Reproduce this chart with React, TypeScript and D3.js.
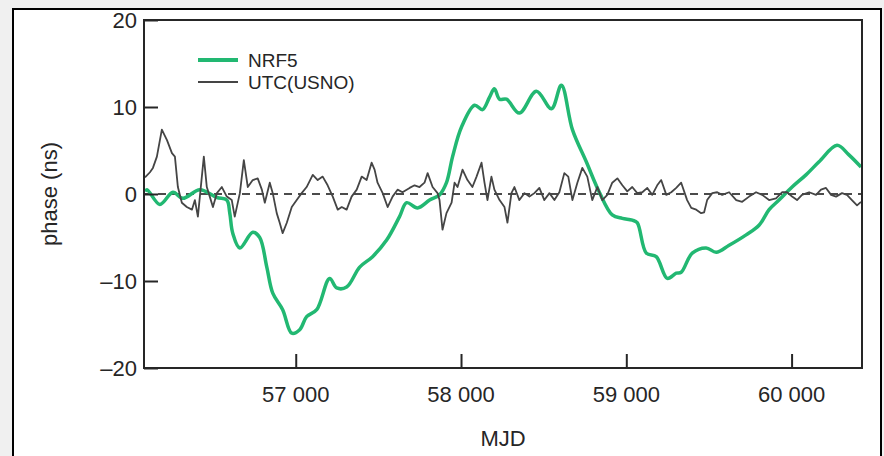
import React, { useEffect, useRef } from 'react';
import * as d3 from 'd3';

// NRF5 phase vs MJD (green)
const nrf5Mjd = [
  56088, 56100, 56178, 56257, 56317, 56420, 56523, 56583, 56601, 56619, 56662, 56740,
  56782, 56825, 56861, 56921, 56976, 57024, 57066, 57127, 57205, 57248, 57308, 57387,
  57465, 57550, 57628, 57671, 57737, 57810, 57870, 57912, 57949, 58003, 58082, 58130,
  58172, 58202, 58233, 58275, 58353, 58456, 58547, 58607, 58674, 58758, 58837, 58915,
  58976, 59036, 59066, 59121, 59181, 59248, 59302, 59332, 59399, 59483, 59544, 59622,
  59725, 59803, 59864, 59924, 60003, 60087, 60166, 60275, 60347, 60420,
];
const nrf5Phase = [
  0.3, 0.5, -1.2, 0.2, -0.5, 0.5, -0.4, -0.7, -2.2, -4.5, -6.2, -4.4,
  -5.0, -8.4, -11.4, -13.3, -16.0, -15.6, -14.1, -13.3, -9.7, -10.8, -10.7, -8.4,
  -7.2, -5.3, -2.6, -1.0, -1.6, -0.7, -0.1, 1.3, 4.3, 7.7, 10.2, 9.7,
  11.1, 12.1, 10.9, 10.9, 9.3, 11.8, 9.8, 12.5, 7.4, 3.7, 0.2, -2.4,
  -2.8, -3.0, -3.3, -6.8, -7.2, -9.7, -9.1, -9.0, -6.8, -6.2, -6.7, -5.9,
  -4.7, -3.6, -1.8, -0.7, 0.8, 2.2, 3.7, 5.6, 4.5, 3.1,
];

// UTC(USNO) phase vs MJD (grey)
const usnoMjd = [
  56088, 56118, 56136, 56160, 56190, 56221, 56251, 56269, 56287, 56311, 56341, 56372,
  56390, 56408, 56432, 56444, 56462, 56480, 56499, 56523, 56553, 56583, 56613, 56631,
  56662, 56686, 56710, 56740, 56770, 56795, 56813, 56843, 56861, 56885, 56903, 56921,
  56946, 56976, 57006, 57036, 57066, 57103, 57133, 57163, 57193, 57224, 57254, 57278,
  57308, 57338, 57369, 57399, 57429, 57459, 57477, 57495, 57526, 57556, 57586, 57616,
  57646, 57689, 57719, 57749, 57779, 57798, 57828, 57858, 57870, 57888, 57912, 57943,
  57961, 57979, 58009, 58039, 58069, 58094, 58124, 58142, 58160, 58184, 58202, 58233,
  58263, 58281, 58305, 58323, 58353, 58384, 58414, 58444, 58474, 58504, 58535, 58565,
  58595, 58625, 58649, 58674, 58704, 58734, 58764, 58794, 58825, 58855, 58885, 58915,
  58946, 58976, 59006, 59036, 59066, 59097, 59127, 59157, 59187, 59211, 59242, 59272,
  59302, 59332, 59368, 59393, 59423, 59453, 59471, 59489, 59520, 59550, 59580, 59622,
  59665, 59701, 59743, 59785, 59822, 59864, 59906, 59942, 59973, 60003, 60033, 60063,
  60106, 60148, 60178, 60208, 60239, 60269, 60305, 60335, 60365, 60396, 60420,
];
const usnoPhase = [
  1.9, 2.5, 3.0, 4.3, 7.4, 6.2, 4.7, 4.3, 0.8, -1.0, -1.5, -1.8,
  -0.7, -2.6, 2.0, 4.3, 0.8, -0.3, -1.5, 0.1, 0.8, -0.3, -0.7, -2.6,
  0.1, 3.9, 0.8, 1.6, 1.8, 0.5, -1.0, 1.3, 0.1, -2.2, -3.3, -4.5,
  -3.3, -1.5, -0.7, 0.1, 0.8, 2.2, 1.6, 2.0, 1.0, -0.3, -1.8, -1.5,
  -1.8, -0.3, 0.5, 2.0, 1.6, 3.6, 2.8, 1.3, 0.1, -1.5, -0.3, 0.5,
  0.2, 0.7, 1.0, 0.8, 1.3, 2.4, 0.8, 0.1, -0.7, -4.1, -2.2, -1.0,
  1.3, 0.8, 2.8, 1.6, 0.8, 2.0, 3.6, 1.3, -0.7, 2.0, 0.5, -0.7,
  -1.5, -3.3, 0.1, 0.8, -0.7, 0.1, -0.3, 0.1, 0.7, -0.7, 0.1, -0.7,
  0.2, 2.4, 2.0, -0.7, 1.3, 3.0, 2.0, -0.7, 0.8, -0.7, -0.1, 1.3,
  1.8, 1.0, 0.3, 0.8, 0.1, 0.2, 0.7, -0.1, 1.0, 1.6, -0.1, 0.2,
  0.7, 1.3, -0.7, -1.6, -1.8, -2.2, -2.1, -0.7, 0.1, 0.2, -0.1, 0.2,
  -0.7, -0.9, -0.3, 0.2, -0.1, -0.7, -0.5, 0.2, 0.2, -0.3, -0.7, -0.1,
  0.2, -0.1, 0.5, 0.7, -0.1, -0.3, 0.1, -0.1, -0.7, -1.3, -0.9,
];

const xTicks = [57000, 58000, 59000, 60000];
const yTicks = [-20, -10, 0, 10, 20];
const seriesNames = ['NRF5', 'UTC(USNO)'];

const GREEN = '#22b872';
const GREY = '#454545';
const INK = '#262626';
const FONT = '"Liberation Sans", Arial, Helvetica, sans-serif';

const App = () => {
  const ref = useRef<SVGSVGElement>(null);

  useEffect(() => {
    document.body.style.margin = '0';
    const svg = d3.select(ref.current);
    svg.selectAll('*').remove();

    const W = 884;
    const H = 456;
    const margin = { left: 144, right: 22, top: 20, bottom: 88 };
    const innerW = W - margin.left - margin.right;
    const innerH = H - margin.top - margin.bottom;

    // page background + frame
    svg.append('rect').attr('width', W).attr('height', H).attr('fill', '#f0f0f0');
    svg
      .append('rect')
      .attr('x', 13)
      .attr('y', 9)
      .attr('width', 868)
      .attr('height', 460)
      .attr('fill', '#fff')
      .attr('stroke', '#000')
      .attr('stroke-width', 2);

    const x = d3.scaleLinear().domain([56082, 60426]).range([0, innerW]);
    const y = d3.scaleLinear().domain([-20, 20]).range([innerH, 0]);

    const g = svg.append('g').attr('transform', `translate(${margin.left}, ${margin.top})`);

    // zero reference
    g.append('line')
      .attr('x1', 0)
      .attr('x2', innerW)
      .attr('y1', y(0))
      .attr('y2', y(0))
      .attr('stroke', '#111')
      .attr('stroke-width', 1.6)
      .attr('stroke-dasharray', '8,6');

    const nrf5 = nrf5Mjd.map((m, i) => [x(m), y(nrf5Phase[i])] as [number, number]);
    const usno = usnoMjd.map((m, i) => [x(m), y(usnoPhase[i])] as [number, number]);

    g.append('path')
      .attr('d', d3.line().curve(d3.curveCatmullRom.alpha(0.5))(nrf5))
      .attr('fill', 'none')
      .attr('stroke', GREEN)
      .attr('stroke-width', 3.5)
      .attr('stroke-linejoin', 'round');

    g.append('path')
      .attr('d', d3.line()(usno))
      .attr('fill', 'none')
      .attr('stroke', GREY)
      .attr('stroke-width', 1.8)
      .attr('stroke-linejoin', 'round');

    // axes box
    g.append('rect')
      .attr('width', innerW)
      .attr('height', innerH)
      .attr('fill', 'none')
      .attr('stroke', INK)
      .attr('stroke-width', 2);

    const fmt = d3.formatLocale({ decimal: '.', thousands: ' ', grouping: [3], currency: ['', ''] }).format(',d');

    const xAxis = g
      .append('g')
      .attr('transform', `translate(0, ${innerH})`)
      .call(d3.axisTop(x).tickValues(xTicks).tickSize(14).tickFormat(() => ''));
    xAxis.select('.domain').remove();
    xAxis.selectAll('line').attr('stroke', INK).attr('stroke-width', 2);

    g.selectAll('.xlab')
      .data(xTicks)
      .enter()
      .append('text')
      .attr('class', 'xlab')
      .attr('x', (d) => x(d))
      .attr('y', innerH + 34)
      .attr('text-anchor', 'middle')
      .attr('fill', INK)
      .style('font-family', FONT)
      .style('font-size', '22px')
      .text((d) => fmt(d));

    const yAxis = g
      .append('g')
      .call(d3.axisRight(y).tickValues(yTicks).tickSize(14).tickFormat(() => ''));
    yAxis.select('.domain').remove();
    yAxis.selectAll('line').attr('stroke', INK).attr('stroke-width', 2);

    g.selectAll('.ylab')
      .data(yTicks)
      .enter()
      .append('text')
      .attr('class', 'ylab')
      .attr('x', -7)
      .attr('y', (d) => y(d))
      .attr('dy', '0.36em')
      .attr('text-anchor', 'end')
      .attr('fill', INK)
      .style('font-family', FONT)
      .style('font-size', '22px')
      .text((d) => (d < 0 ? `\u2013${Math.abs(d)}` : `${d}`));

    // titles
    svg
      .append('text')
      .attr('x', margin.left + innerW / 2)
      .attr('y', 446)
      .attr('text-anchor', 'middle')
      .attr('fill', INK)
      .style('font-family', FONT)
      .style('font-size', '22px')
      .text('MJD');

    svg
      .append('text')
      .attr('transform', `translate(57, ${margin.top + y(0)}) rotate(-90)`)
      .attr('text-anchor', 'middle')
      .attr('fill', INK)
      .style('font-family', FONT)
      .style('font-size', '22px')
      .text('phase (ns)');

    // legend
    const legend = svg.append('g').attr('transform', 'translate(198, 60)');
    seriesNames.forEach((name, i) => {
      const row = legend.append('g').attr('transform', `translate(0, ${i * 22})`);
      row
        .append('line')
        .attr('x1', 0)
        .attr('x2', 40)
        .attr('stroke', i === 0 ? GREEN : GREY)
        .attr('stroke-width', i === 0 ? 4 : 2);
      row
        .append('text')
        .attr('x', 50)
        .attr('dy', '0.36em')
        .attr('fill', INK)
        .style('font-family', FONT)
        .style('font-size', '19px')
        .text(name);
    });
  }, []);

  return (
    <div style={{ position: 'absolute', left: 0, top: 0 }}>
      <svg ref={ref} width={884} height={456} style={{ display: 'block' }} />
    </div>
  );
};

export default App;
